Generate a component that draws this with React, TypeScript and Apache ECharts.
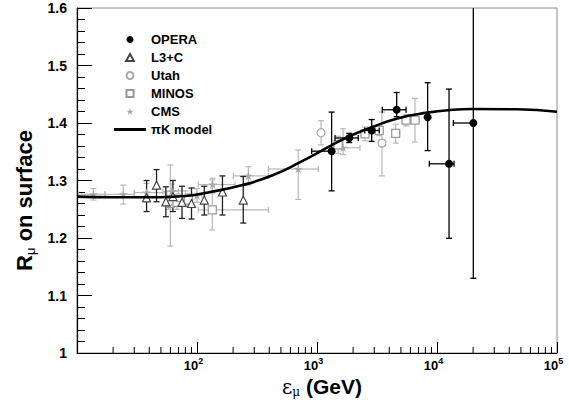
import React, { useEffect, useRef } from 'react';
import * as echarts from 'echarts';

// Each point: [E (GeV), R, E_low, E_high, R_low, R_high]
const operaPoints = [
  [1324, 1.351, 903, 1324, 1.282, 1.419],
  [1857, 1.374, 1413, 2208, 1.366, 1.382],
  [2856, 1.387, 2500, 3300, 1.368, 1.406],
  [4614, 1.423, 3499, 5521, 1.411, 1.453],
  [8356, 1.41, 8356, 8356, 1.352, 1.47],
  [12600, 1.329, 8630, 13870, 1.1995, 1.459],
  [20080, 1.4, 13680, 20080, 1.13, 1.7],
];

const l3cPoints = [
  [38, 1.27, 38, 38, 1.246, 1.3],
  [46, 1.292, 46, 46, 1.263, 1.319],
  [55, 1.263, 55, 55, 1.237, 1.289],
  [63, 1.272, 63, 63, 1.246, 1.3],
  [75, 1.262, 75, 75, 1.234, 1.29],
  [90, 1.26, 90, 90, 1.233, 1.287],
  [115, 1.266, 115, 115, 1.24, 1.29],
  [163, 1.28, 163, 163, 1.24, 1.308],
  [243, 1.266, 243, 243, 1.226, 1.307],
];

const utahPoints = [
  [58, 1.262, 58, 58, 1.25, 1.274],
  [70, 1.27, 70, 70, 1.258, 1.282],
  [1080, 1.383, 1080, 1080, 1.362, 1.404],
  [3480, 1.365, 3480, 3480, 1.308, 1.419],
];

const minosPoints = [
  [60, 1.26, 60, 60, 1.186, 1.327],
  [68, 1.262, 64, 72, 1.25, 1.275],
  [85, 1.266, 80, 90, 1.255, 1.277],
  [134, 1.249, 102.5, 393, 1.214, 1.301],
  [1500, 1.362, 1400, 1610, 1.347, 1.377],
  [2512, 1.381, 2330, 2700, 1.369, 1.393],
  [3300, 1.387, 3050, 3560, 1.378, 1.396],
  [4528, 1.382, 4200, 4880, 1.365, 1.398],
  [5520, 1.405, 5120, 5950, 1.395, 1.415],
  [6556, 1.405, 6080, 7070, 1.367, 1.443],
];

const cmsPoints = [
  [13.7, 1.276, 10.3, 17.1, 1.266, 1.286],
  [24.3, 1.276, 17.1, 30, 1.259, 1.292],
  [38, 1.279, 30, 56, 1.262, 1.295],
  [62, 1.281, 52, 70, 1.268, 1.294],
  [80, 1.27, 70, 90, 1.258, 1.282],
  [100, 1.274, 90, 110, 1.262, 1.286],
  [135, 1.293, 102.6, 207.5, 1.278, 1.304],
  [268, 1.308, 201, 393, 1.292, 1.324],
  [698, 1.32, 393, 1026, 1.267, 1.353],
  [1650, 1.357, 1318, 2280, 1.345, 1.39],
];

const modelE = [10, 20, 49, 80, 129, 240, 427, 724, 1318, 1862, 2884, 4677, 8318, 12882, 19953, 46774, 100000];
const modelR = [1.272, 1.271, 1.271, 1.273, 1.28, 1.292, 1.309, 1.332, 1.361, 1.377, 1.393, 1.408, 1.418, 1.4226, 1.4243, 1.4238, 1.4197];

const xDecades = [10, 100, 1000, 10000];
const xMinorMultipliers = [2, 3, 4, 5, 6, 7, 8, 9];

const legendNames = ['OPERA', 'L3+C', 'Utah', 'MINOS', 'CMS', '\u03c0K model'];

const FONT = '"Liberation Sans", Arial, Helvetica, sans-serif';
const STAR = 'path://M50,2 L61,36 L97,36 L68,57 L79,92 L50,71 L21,92 L32,57 L3,36 L39,36 Z';
const TRI_ICON = 'path://M5,0 L10,9 L0,9 Z';
const SQ_ICON = 'path://M0,0 L10,0 L10,10 L0,10 Z';
const LINE_ICON = 'path://M0,0 L32,0 L32,3 L0,3 Z';
const legendIcons: Record<string, string> = {
  'L3+C': TRI_ICON,
  MINOS: SQ_ICON,
  CMS: STAR,
  '\u03c0K model': LINE_ICON,
};

function errorRenderer(color: string, lw: number) {
  return (params: any, api: any) => {
    const x = api.value(0);
    const y = api.value(1);
    const xl = api.value(2);
    const xh = api.value(3);
    const yl = api.value(4);
    const yh = api.value(5);
    const c = api.coord([x, y]);
    const style = { stroke: color, lineWidth: lw, fill: null };
    const cap = 3;
    const children: any[] = [];
    const line = (x1: number, y1: number, x2: number, y2: number) =>
      children.push({ type: 'line', shape: { x1, y1, x2, y2 }, style });
    if (yl !== y) {
      const p = api.coord([x, yl]);
      line(c[0], c[1], p[0], p[1]);
      line(p[0] - cap, p[1], p[0] + cap, p[1]);
    }
    if (yh !== y) {
      const p = api.coord([x, yh]);
      line(c[0], c[1], p[0], p[1]);
      line(p[0] - cap, p[1], p[0] + cap, p[1]);
    }
    if (xl !== x) {
      const p = api.coord([xl, y]);
      line(c[0], c[1], p[0], p[1]);
      line(p[0], p[1] - cap, p[0], p[1] + cap);
    }
    if (xh !== x) {
      const p = api.coord([xh, y]);
      line(c[0], c[1], p[0], p[1]);
      line(p[0], p[1] - cap, p[0], p[1] + cap);
    }
    return { type: 'group', children };
  };
}

function errSeries(points: number[][], color: string, lw: number, z: number) {
  return {
    type: 'custom',
    clip: true,
    z,
    silent: true,
    renderItem: errorRenderer(color, lw),
    encode: { x: 0, y: 1 },
    data: points,
  };
}

export default function App() {
  const ref = useRef<HTMLDivElement>(null);
  useEffect(() => {
    document.body.style.margin = '0';
    const chart = echarts.init(ref.current!, undefined, { renderer: 'svg' });
    const minorTicks: number[][] = [];
    xDecades.forEach((d) => xMinorMultipliers.forEach((m) => minorTicks.push([d * m, 1])));
    const xy = (pts: number[][]) => pts.map((p) => [p[0], p[1]]);

    const option: any = {
      animation: false,
      backgroundColor: '#fff',
      textStyle: { fontFamily: FONT },
      grid: {
        left: 77,
        top: 8,
        right: 12,
        bottom: 57,
        show: true,
        borderColor: '#8a8a8a',
        borderWidth: 1,
        backgroundColor: 'transparent',
      },
      legend: {
        orient: 'vertical',
        left: 114,
        top: 33,
        padding: 0,
        itemGap: 5,
        itemWidth: 32,
        itemHeight: 7,
        symbolKeepAspect: true,
        selectedMode: false,
        data: legendNames.map((n) => (legendIcons[n] ? { name: n, icon: legendIcons[n] } : { name: n })),
        textStyle: { fontFamily: FONT, fontWeight: 'bold', fontSize: 13, lineHeight: 13, color: '#000' },
      },
      xAxis: {
        type: 'log',
        logBase: 10,
        min: 10,
        max: 100000,
        axisLine: { lineStyle: { color: '#000', width: 1 } },
        axisTick: { inside: true, length: 11, lineStyle: { color: '#000' } },
        splitLine: { show: false },
        axisLabel: {
          margin: 3,
          color: '#000',
          padding: [0, 7, 0, 0],
          formatter: (v: number) => {
            const e = Math.round(Math.log10(v));
            if (e <= 1) return '';
            return '{b|10}{s|' + e + '}';
          },
          rich: {
            b: { fontFamily: FONT, fontWeight: 'bold', fontSize: 13, lineHeight: 18, color: '#000' },
            s: { fontFamily: FONT, fontWeight: 'bold', fontSize: 9, lineHeight: 9, verticalAlign: 'top', color: '#000' },
          },
        },
        name: '{e|\u03b5}{m|\u03bc}{t| (GeV)}',
        nameLocation: 'middle',
        nameGap: 18,
        nameTextStyle: {
          padding: [0, 0, 0, 10],
          rich: {
            e: { fontFamily: 'DejaVu Serif, serif', fontSize: 20, lineHeight: 22, color: '#000' },
            m: { fontFamily: 'DejaVu Serif, serif', fontSize: 12, lineHeight: 12, verticalAlign: 'bottom', color: '#000' },
            t: { fontFamily: FONT, fontWeight: 'bold', fontSize: 21, lineHeight: 22, color: '#000' },
          },
        },
      },
      yAxis: {
        type: 'value',
        min: 1,
        max: 1.6,
        interval: 0.1,
        axisLine: { show: true, lineStyle: { color: '#000', width: 1.2 } },
        axisTick: { inside: true, length: 15, lineStyle: { color: '#000' } },
        minorTick: { show: true, splitNumber: 5, length: 8, lineStyle: { color: '#000' } },
        splitLine: { show: false },
        axisLabel: { fontFamily: FONT, fontWeight: 'bold', fontSize: 14, color: '#000', margin: 10 },
        name: '{r|R}{m|\u03bc}{t| on surface}',
        nameLocation: 'middle',
        nameRotate: 90,
        nameGap: 38,
        nameTextStyle: {
          padding: [0, 40, 0, 0],
          rich: {
            r: { fontFamily: FONT, fontWeight: 'bold', fontSize: 22, lineHeight: 24, color: '#000' },
            m: { fontFamily: FONT, fontSize: 13, lineHeight: 13, verticalAlign: 'bottom', color: '#000' },
            t: { fontFamily: FONT, fontWeight: 'bold', fontSize: 22, lineHeight: 24, color: '#000' },
          },
        },
      },
      series: [
        {
          type: 'custom',
          silent: true,
          z: 6,
          renderItem: (params: any, api: any) => {
            const p = api.coord([api.value(0), api.value(1)]);
            return {
              type: 'line',
              shape: { x1: p[0], y1: p[1], x2: p[0], y2: p[1] - 6 },
              style: { stroke: '#000', lineWidth: 1 },
            };
          },
          encode: { x: 0, y: 1 },
          data: minorTicks,
        },
        errSeries(cmsPoints, '#b8b8b8', 1.2, 2),
        errSeries(minosPoints, '#b8b8b8', 1.2, 2),
        errSeries(utahPoints, '#b8b8b8', 1.2, 2),
        errSeries(l3cPoints, '#222', 1.3, 3),
        {
          name: 'CMS',
          type: 'scatter',
          z: 3,
          symbol: STAR,
          symbolSize: 9,
          symbolKeepAspect: true,
          itemStyle: { color: '#a8a8a8', opacity: 1 },
          data: xy(cmsPoints),
        },
        {
          name: 'MINOS',
          type: 'scatter',
          z: 3,
          symbol: 'rect',
          symbolSize: 8,
          itemStyle: { color: '#fff', borderColor: '#999', borderWidth: 1.2, opacity: 1 },
          data: xy(minosPoints),
        },
        {
          name: 'Utah',
          type: 'scatter',
          z: 3,
          symbol: 'circle',
          symbolSize: 8,
          itemStyle: { color: '#fff', borderColor: '#aaa', borderWidth: 1.3, opacity: 1 },
          data: xy(utahPoints),
        },
        {
          name: 'L3+C',
          type: 'scatter',
          z: 3,
          symbol: 'triangle',
          symbolSize: 8,
          itemStyle: { color: '#fff', borderColor: '#444', borderWidth: 1.2, opacity: 1 },
          data: xy(l3cPoints),
        },
        {
          name: '\u03c0K model',
          type: 'line',
          z: 4,
          smooth: true,
          symbol: 'none',
          showSymbol: false,
          lineStyle: { color: '#000', width: 2.6 },
          itemStyle: { color: '#000' },
          data: modelE.map((e, i) => [e, modelR[i]]),
        },
        errSeries(operaPoints, '#000', 1.3, 5),
        {
          name: 'OPERA',
          type: 'scatter',
          z: 5,
          symbol: 'circle',
          symbolSize: 8,
          itemStyle: { color: '#000', opacity: 1 },
          data: xy(operaPoints),
        },
      ],
    };
    chart.setOption(option);
    return () => chart.dispose();
  }, []);
  return <div ref={ref} style={{ width: 569, height: 410 }} />;
}
